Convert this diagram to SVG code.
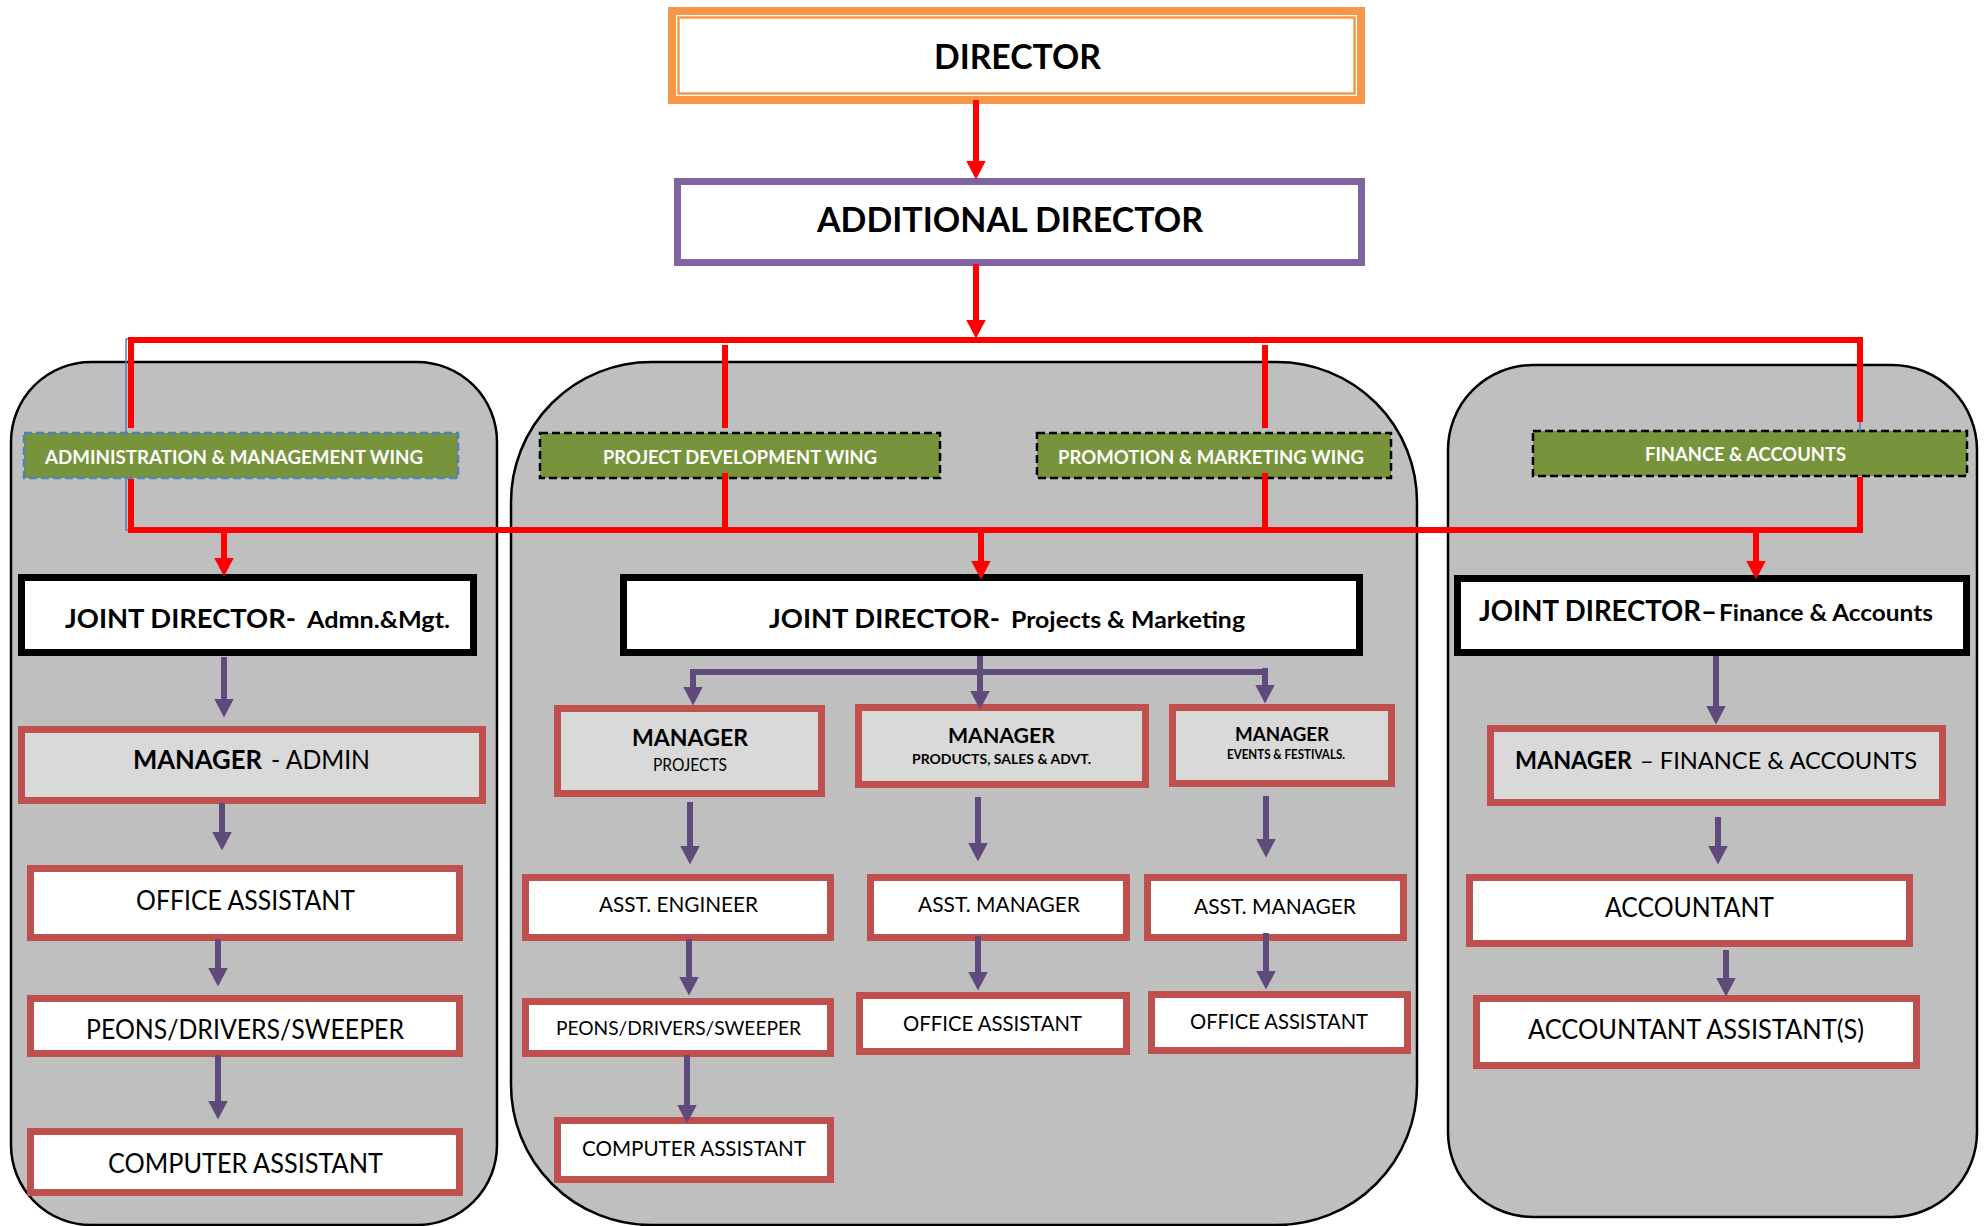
<svg xmlns="http://www.w3.org/2000/svg" width="1984" height="1226" viewBox="0 0 1984 1226">
  <defs>
    <style>
      .panel { fill: #BFBFBF; stroke: #000; stroke-width: 2.5; }
      .jd { fill: #FFFFFF; stroke: #000; stroke-width: 7; }
      .role { fill: #FFFFFF; stroke: #C0504D; stroke-width: 7; }
      .mgr { fill: #D9D9D9; stroke: #C0504D; stroke-width: 7; }
      .wing { fill: #77933C; stroke: #000; stroke-width: 2.5; stroke-dasharray: 8 4; }
      .wing.blue { stroke: #4F81BD; }
      .red { stroke: #FF0000; stroke-width: 6; fill: none; }
      .pur { stroke: #604A7B; stroke-width: 6; fill: none; }
      .thin { stroke: #4F81BD; stroke-width: 1.5; fill: none; }
      .ra { marker-end: url(#headRed); }
      .pa { marker-end: url(#headPur); }
      text { font-family: Lato, "Liberation Sans", sans-serif; fill: #000; }
      .b { font-weight: 700; }
      .w { fill: #FFFFFF; }
    </style>
    <marker id="headRed" viewBox="0 0 19 20" refX="0.5" refY="10" markerWidth="19" markerHeight="20" markerUnits="userSpaceOnUse" orient="auto">
      <path d="M0 0 L19 10 L0 20 Z" fill="#FF0000"/>
    </marker>
    <marker id="headPur" viewBox="0 0 19 20" refX="0.5" refY="10" markerWidth="19" markerHeight="20" markerUnits="userSpaceOnUse" orient="auto">
      <path d="M0 0 L19 10 L0 20 Z" fill="#604A7B"/>
    </marker>
  </defs>

  <rect width="1984" height="1226" fill="#FFFFFF"/>

  <!-- wing panels -->
  <g id="panels">
    <rect id="panel-admin" class="panel" x="11" y="362" width="486" height="863" rx="80" ry="80"/>
    <rect id="panel-projects" class="panel" x="511" y="362" width="906" height="863" rx="140" ry="140"/>
    <rect id="panel-finance" class="panel" x="1448" y="365" width="529" height="852" rx="85" ry="85"/>
  </g>

  <!-- top of the hierarchy -->
  <g id="director">
    <rect x="672" y="11" width="689" height="89" fill="#FFFFFF" stroke="#F79646" stroke-width="8"/>
    <rect x="678.5" y="17.5" width="676" height="76" fill="none" stroke="#F79646" stroke-width="2.5"/>
    <text class="b" x="934" y="69" font-size="33.5" textLength="167" lengthAdjust="spacingAndGlyphs">DIRECTOR</text>
  </g>

  <g id="additional-director">
    <rect x="677.5" y="181.5" width="684" height="81" fill="#FFFFFF" stroke="#8064A2" stroke-width="7"/>
    <text class="b" x="817" y="232" font-size="35" textLength="386" lengthAdjust="spacingAndGlyphs">ADDITIONAL DIRECTOR</text>
  </g>

  <!-- wings -->
  <g id="wing-admin">
    <rect class="wing blue" x="24" y="433" width="434" height="45"/>
    <text class="b w" x="45" y="464" font-size="19.5" textLength="378" lengthAdjust="spacingAndGlyphs">ADMINISTRATION &amp; MANAGEMENT WING</text>
  </g>
  <g id="wing-project">
    <rect class="wing" x="540" y="433" width="400" height="45"/>
    <text class="b w" x="603" y="464" font-size="19.5" textLength="274" lengthAdjust="spacingAndGlyphs">PROJECT DEVELOPMENT WING</text>
  </g>
  <g id="wing-promotion">
    <rect class="wing" x="1037" y="433" width="354" height="45"/>
    <text class="b w" x="1058" y="464" font-size="19.5" textLength="306" lengthAdjust="spacingAndGlyphs">PROMOTION &amp; MARKETING WING</text>
  </g>
  <g id="wing-finance">
    <rect class="wing" x="1533" y="431" width="434" height="45"/>
    <text class="b w" x="1645" y="461" font-size="19.5" textLength="201" lengthAdjust="spacingAndGlyphs">FINANCE &amp; ACCOUNTS</text>
  </g>

  <!-- joint directors -->
  <g id="jd-admin">
    <rect class="jd" x="21.5" y="577.5" width="452" height="75"/>
    <text class="b" x="65" y="628" font-size="26.5" textLength="231" lengthAdjust="spacingAndGlyphs">JOINT DIRECTOR-</text>
    <text class="b" x="307" y="628" font-size="22.5" textLength="143" lengthAdjust="spacingAndGlyphs">Admn.&amp;Mgt.</text>
  </g>
  <g id="jd-projects">
    <rect class="jd" x="623.5" y="577.5" width="736" height="75"/>
    <text class="b" x="769" y="628" font-size="26.5" textLength="231" lengthAdjust="spacingAndGlyphs">JOINT DIRECTOR-</text>
    <text class="b" x="1011" y="628" font-size="22.5" textLength="234" lengthAdjust="spacingAndGlyphs">Projects &amp; Marketing</text>
  </g>
  <g id="jd-finance">
    <rect class="jd" x="1457.5" y="578.5" width="509" height="74"/>
    <text class="b" x="1479" y="621" font-size="28" textLength="238" lengthAdjust="spacingAndGlyphs">JOINT DIRECTOR–</text>
    <text class="b" x="1719" y="621" font-size="23" textLength="214" lengthAdjust="spacingAndGlyphs">Finance &amp; Accounts</text>
  </g>

  <!-- administration column -->
  <g id="mgr-admin">
    <rect class="mgr" x="21.5" y="729.5" width="461" height="71"/>
    <text class="b" x="133" y="769" font-size="26.5" textLength="129" lengthAdjust="spacingAndGlyphs">MANAGER</text>
    <text x="271" y="769" font-size="26.5" textLength="99" lengthAdjust="spacingAndGlyphs">- ADMIN</text>
  </g>
  <g id="office-admin">
    <rect class="role" x="30.5" y="868.5" width="429" height="69"/>
    <text x="136" y="910" font-size="26" textLength="219" lengthAdjust="spacingAndGlyphs">OFFICE ASSISTANT</text>
  </g>
  <g id="peons-admin">
    <rect class="role" x="30.5" y="998.5" width="429" height="55"/>
    <text x="86" y="1039" font-size="26" textLength="318" lengthAdjust="spacingAndGlyphs">PEONS/DRIVERS/SWEEPER</text>
  </g>
  <g id="computer-admin">
    <rect class="role" x="30.5" y="1131.5" width="429" height="61"/>
    <text x="108" y="1173" font-size="26" textLength="275" lengthAdjust="spacingAndGlyphs">COMPUTER ASSISTANT</text>
  </g>

  <!-- projects column -->
  <g id="mgr-projects">
    <rect class="mgr" x="557.5" y="708.5" width="264" height="85"/>
    <text class="b" x="632" y="746" font-size="23.5" textLength="116" lengthAdjust="spacingAndGlyphs">MANAGER</text>
    <text x="653" y="771" font-size="16.5" textLength="74" lengthAdjust="spacingAndGlyphs">PROJECTS</text>
  </g>
  <g id="asst-engineer">
    <rect class="role" x="525.5" y="877.5" width="305" height="60"/>
    <text x="599" y="912" font-size="21" textLength="159" lengthAdjust="spacingAndGlyphs">ASST. ENGINEER</text>
  </g>
  <g id="peons-projects">
    <rect class="role" x="525.5" y="1001.5" width="305" height="52"/>
    <text x="556" y="1035" font-size="20" textLength="245" lengthAdjust="spacingAndGlyphs">PEONS/DRIVERS/SWEEPER</text>
  </g>
  <g id="computer-projects">
    <rect class="role" x="557.5" y="1120.5" width="273" height="59"/>
    <text x="582" y="1156" font-size="22" textLength="224" lengthAdjust="spacingAndGlyphs">COMPUTER ASSISTANT</text>
  </g>

  <!-- products, sales and advertising column -->
  <g id="mgr-products">
    <rect class="mgr" x="858.5" y="707.5" width="287" height="77"/>
    <text class="b" x="948" y="743" font-size="21" textLength="107" lengthAdjust="spacingAndGlyphs">MANAGER</text>
    <text class="b" x="912" y="764" font-size="14" textLength="179" lengthAdjust="spacingAndGlyphs">PRODUCTS, SALES &amp; ADVT.</text>
  </g>
  <g id="asst-mgr-products">
    <rect class="role" x="870.5" y="877.5" width="256" height="60"/>
    <text x="918" y="912" font-size="21" textLength="162" lengthAdjust="spacingAndGlyphs">ASST. MANAGER</text>
  </g>
  <g id="office-products">
    <rect class="role" x="859.5" y="995.5" width="267" height="56"/>
    <text x="903" y="1031" font-size="22" textLength="179" lengthAdjust="spacingAndGlyphs">OFFICE ASSISTANT</text>
  </g>

  <!-- events and festivals column -->
  <g id="mgr-events">
    <rect class="mgr" x="1172.5" y="707.5" width="219" height="76"/>
    <text class="b" x="1235" y="741" font-size="19.5" textLength="94" lengthAdjust="spacingAndGlyphs">MANAGER</text>
    <text class="b" x="1227" y="759" font-size="12.5" textLength="118" lengthAdjust="spacingAndGlyphs">EVENTS &amp; FESTIVALS.</text>
  </g>
  <g id="asst-mgr-events">
    <rect class="role" x="1147.5" y="877.5" width="256" height="60"/>
    <text x="1194" y="914" font-size="21" textLength="162" lengthAdjust="spacingAndGlyphs">ASST. MANAGER</text>
  </g>
  <g id="office-events">
    <rect class="role" x="1151.5" y="994.5" width="256" height="56"/>
    <text x="1190" y="1029" font-size="22" textLength="178" lengthAdjust="spacingAndGlyphs">OFFICE ASSISTANT</text>
  </g>

  <!-- finance column -->
  <g id="mgr-finance">
    <rect class="mgr" x="1490.5" y="728.5" width="452" height="74"/>
    <text class="b" x="1515" y="769" font-size="24" textLength="117" lengthAdjust="spacingAndGlyphs">MANAGER</text>
    <text x="1640" y="769" font-size="24" textLength="277" lengthAdjust="spacingAndGlyphs">– FINANCE &amp; ACCOUNTS</text>
  </g>
  <g id="accountant">
    <rect class="role" x="1469.5" y="877.5" width="440" height="66"/>
    <text x="1605" y="917" font-size="26" textLength="169" lengthAdjust="spacingAndGlyphs">ACCOUNTANT</text>
  </g>
  <g id="accountant-assistants">
    <rect class="role" x="1476.5" y="998.5" width="440" height="67"/>
    <text x="1528" y="1039" font-size="26" textLength="336" lengthAdjust="spacingAndGlyphs">ACCOUNTANT ASSISTANT(S)</text>
  </g>

  <!-- connectors -->
  <g id="connectors">
    <!-- guide lines left behind the red bus -->
    <path class="thin" d="M131 339 H126 V432"/>
    <path class="thin" d="M126 479 V530 H131"/>
    <path class="thin" d="M1860 420 V432"/>

    <!-- director chain -->
    <path class="red ra" d="M976 100 V161"/>
    <path class="red ra" d="M976 264 V320"/>

    <!-- upper bus to the wings -->
    <path class="red" d="M128 340 H1863"/>
    <path class="red" d="M131 337 V428"/>
    <path class="red" d="M725 345 V428"/>
    <path class="red" d="M1265 345 V428"/>
    <path class="red" d="M1860 337 V422"/>

    <!-- wings to the lower bus -->
    <path class="red" d="M131 479 V530"/>
    <path class="red" d="M725 473 V530"/>
    <path class="red" d="M1265 473 V530"/>
    <path class="red" d="M1860 477 V530"/>
    <path class="red" d="M128 530 H1863"/>

    <!-- lower bus to the joint directors -->
    <path class="red ra" d="M224 530 V558"/>
    <path class="red ra" d="M981 530 V561"/>
    <path class="red ra" d="M1756 530 V561"/>

    <!-- administration chain -->
    <path class="pur pa" d="M224 657 V699"/>
    <path class="pur pa" d="M222 803 V832"/>
    <path class="pur pa" d="M218 939 V968"/>
    <path class="pur pa" d="M218 1055 V1101"/>

    <!-- projects and marketing split -->
    <path class="pur" d="M693 672 H1268"/>
    <path class="pur pa" d="M980 656 V691"/>
    <path class="pur pa" d="M693 669 V687"/>
    <path class="pur pa" d="M1265 668 V685"/>

    <path class="pur pa" d="M690 802 V846"/>
    <path class="pur pa" d="M689 939 V977"/>
    <path class="pur pa" d="M687 1055 V1105"/>

    <path class="pur pa" d="M978 797 V843"/>
    <path class="pur pa" d="M978 936 V972"/>

    <path class="pur pa" d="M1266 796 V839"/>
    <path class="pur pa" d="M1266 933 V971"/>

    <!-- finance chain -->
    <path class="pur pa" d="M1716 656 V706"/>
    <path class="pur pa" d="M1718 817 V846"/>
    <path class="pur pa" d="M1726 950 V978"/>
  </g>
</svg>
